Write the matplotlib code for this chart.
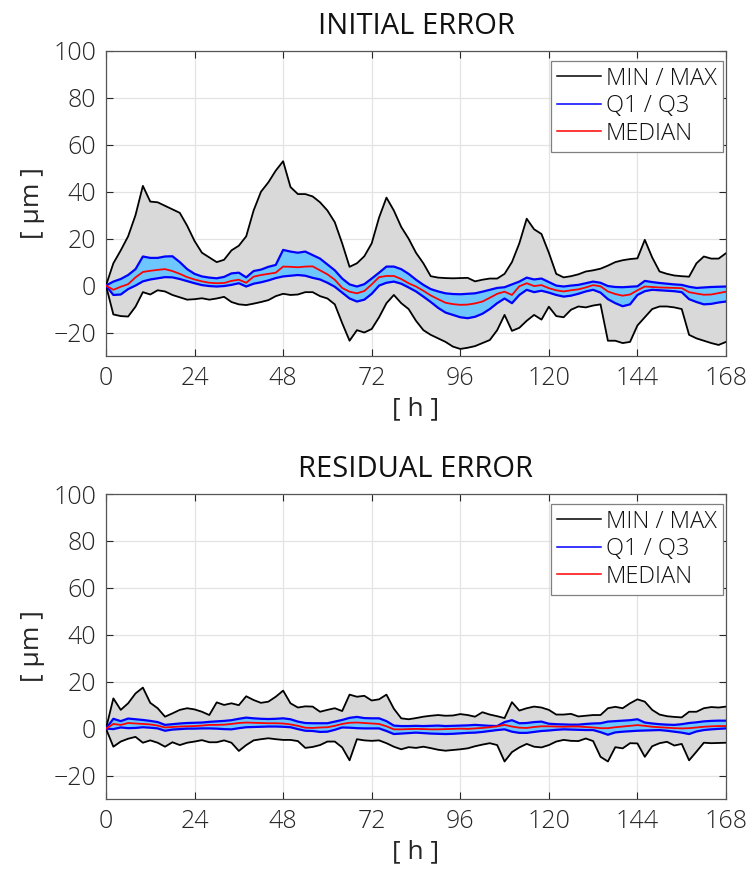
import numpy as np
import matplotlib
matplotlib.use('Agg')
import matplotlib.pyplot as plt
from matplotlib.lines import Line2D

plt.rcParams['font.family'] = ['Open Sans', 'DejaVu Sans']
plt.rcParams['font.weight'] = 'light'

# time axis [h], one sample every 2 h
hours = np.arange(0, 169, 2)

# ---- INITIAL ERROR [um] ----
init_max = [0, 9.5, 15, 21, 30, 42.5, 35.8, 35.5, 34, 32.5, 31, 25.5, 19, 14, 12, 10, 11, 15, 17, 21,
            32, 40, 44, 49, 53, 42, 39, 39, 38, 35.5, 32, 27, 18, 8, 9.5, 12.5, 18, 29, 37.5, 32,
            25, 20, 14, 9.5, 4, 3.4, 3.2, 3.1, 3.2, 3.3, 1.8, 2.5, 3, 3, 5, 10, 18, 28.5, 24, 22,
            14, 5, 3.5, 4, 4.8, 6, 6.5, 7.2, 8.5, 10, 10.8, 11.3, 11.6, 19.5, 12, 6, 5, 4.3, 4, 3.8,
            9.5, 12.4, 11.5, 11.5, 13.8]
init_min = [0, -12.3, -13, -13.2, -9, -2.8, -3.8, -2, -2.5, -4, -5, -6, -5.8, -5.4, -6, -5.5, -4.8, -7, -8, -8.3,
            -7.7, -7, -6.2, -4.5, -3.5, -4, -3.8, -2.8, -2.8, -4.5, -5.5, -8, -16, -23.5, -19, -20, -18.5, -13.5, -7.5, -4,
            -7.5, -10, -15, -19, -21, -22.5, -24, -26, -27, -26.5, -25.8, -24.5, -23.2, -19, -12.5, -19.3, -18, -15, -12.5, -14.5,
            -9, -13, -13.5, -10.3, -8.9, -9.3, -8.5, -8, -23.5, -23.5, -24.5, -24, -17, -13.5, -10, -8.9, -8.9, -9.3, -10, -21,
            -22.5, -23.5, -24.5, -25.3, -24]
init_q3 = [0, 1.7, 2.8, 4.5, 7, 12.4, 11.8, 11.8, 12.4, 12.5, 10, 7, 5, 3.9, 3.4, 3.1, 3.7, 5.2, 5.5, 3.5,
           6.2, 6.8, 8, 8.8, 15.2, 14.5, 14, 14.5, 13, 11.5, 9, 6.5, 3, 0.5, -0.4, 0.6, 3, 5.5, 8.1, 8.1,
           7, 5, 2.5, 0.3, -1.5, -2.5, -3.3, -3.6, -3.7, -3.5, -3.3, -2.6, -1.8, -1, -0.7, 0.5, 1.7, 3.4, 2.6, 3,
           1.5, 0, -0.4, 0, 0.3, 1, 1.7, 1.2, -0.2, -0.6, -0.7, -0.5, -0.3, 2, 1.5, 1.1, 0.8, 0.5, 0.3, -0.5,
           -1, -0.8, -0.6, -0.5, -0.4]
init_q1 = [0, -4, -3.8, -1.5, 0, 1.8, 2.6, 3.1, 3.6, 3.5, 2.8, 1.9, 1, 0.2, -0.2, -0.4, -0.2, 0.3, 1, -0.4,
           0.8, 1.4, 2.2, 3.2, 3.9, 4.2, 4.5, 4.2, 3.3, 2.6, 1.2, -0.5, -3, -5.5, -6.8, -6, -3.5, 0, 1.2, 1.7,
           0.8, -0.8, -2.5, -4.7, -7, -9.5, -11.5, -12.5, -13.5, -13.9, -13.3, -12, -10, -7.5, -5.5, -7.5, -4, -1.8, -2.8, -2.2,
           -3, -4, -4.7, -4.3, -3.5, -2.5, -1.8, -3, -5.8, -7.5, -8.8, -8, -4, -2.4, -1.8, -2, -2.2, -2.4, -2.8, -5.8,
           -7, -8, -7.8, -7.2, -6.8]
init_med = [0, -1.8, -0.5, 0.6, 3.5, 5.8, 6.3, 6.7, 7, 6.2, 5, 3.6, 2.6, 1.8, 1.2, 1, 1.1, 2, 2.5, 1.2,
            3.8, 4.5, 5, 5.5, 8.1, 8, 7.8, 8.1, 8.2, 6.5, 4.8, 2.5, -1, -2.6, -3.3, -2.3, 0.5, 3.6, 4.1, 4.1,
            2.8, 1, -0.4, -2.2, -4.2, -5.8, -7.3, -7.9, -8.2, -8.1, -7.6, -6.8, -5.2, -3.5, -2.6, -4, -0.3, 1, -0.2, 0.2,
            -1.1, -2, -2.5, -2, -1.6, -0.8, 0.2, -0.3, -2.5, -3.6, -4.3, -3.8, -2, -0.4, -0.6, -0.8, -0.9, -1, -1.1, -2.8,
            -3.4, -3.9, -3.8, -3.2, -2.6]

# ---- RESIDUAL ERROR [um] ----
res_max = [0, 12.9, 8, 10.8, 15, 17.5, 11, 8.7, 5.1, 6.5, 8, 8.7, 8.2, 7.2, 5.8, 11.2, 10.1, 10.8, 10, 13.8,
           12.2, 11, 11.5, 13.6, 16.2, 10.8, 9, 9.5, 9.4, 7.2, 8, 8.7, 7.5, 14.5, 13.6, 14, 12, 12.5, 14.5, 8.5,
           4.4, 4, 4.5, 5.1, 5.5, 5.8, 5.5, 5.6, 6.2, 5.8, 5.1, 7, 6, 5.3, 4.5, 11.3, 7.7, 8.7, 9.4, 9,
           8, 6, 6, 6.3, 5.2, 5.5, 5.8, 5.8, 8.7, 9.3, 8.7, 10.8, 12.5, 11.5, 8, 6, 5.3, 5, 4.8, 7.2,
           7.2, 8.7, 9.2, 9, 9.4]
res_min = [0, -7.7, -5.5, -4.3, -3.5, -6, -5, -6, -7.7, -5.8, -7, -6, -5.5, -4.9, -5.8, -5.8, -5, -6, -9.5, -7,
           -5, -4.5, -4.1, -4.5, -4.8, -4.8, -5.3, -8.2, -7.8, -7, -5.5, -5.5, -8, -13.5, -4.5, -5, -5.2, -5, -6.2, -7.7,
           -8.8, -7.9, -8.2, -7.7, -8.3, -9, -9.4, -9.1, -8.8, -8.4, -7.5, -6.8, -6.2, -7, -14, -10, -8, -6.5, -7.7, -8,
           -7, -5.5, -4.8, -5.2, -5.3, -4.2, -5.3, -12, -14, -7.9, -8.4, -6.2, -6.3, -12, -7.5, -6.2, -5.6, -7.2, -6.5, -13.5,
           -9.8, -6, -6.2, -6.1, -6]
res_q3 = [0, 4.2, 3.2, 4.3, 4, 3.7, 3.3, 2.8, 1.6, 1.9, 2.2, 2.4, 2.5, 2.6, 2.9, 3.1, 3.3, 3.6, 4.2, 4.7,
          4.4, 4.2, 4.1, 4.2, 4.4, 4, 3, 2.4, 2.3, 2.3, 2.3, 3, 3.7, 4.6, 5, 4.5, 4.4, 4.4, 3.2, 1.3,
          1.1, 1.1, 1.2, 1.1, 1.2, 1.3, 1.1, 1.2, 1.3, 1.4, 1.6, 1.4, 1.2, 1.1, 2.8, 3.6, 2.3, 2.4, 2.8, 3,
          2.1, 1.9, 1.8, 1.7, 1.7, 2, 2.2, 2.3, 3, 3.2, 3.4, 3.6, 4, 2.6, 2.2, 1.9, 1.7, 1.6, 1.9, 2.4,
          2.7, 3.1, 3.3, 3.4, 3.4]
res_q1 = [0, -0.2, 0.5, 0.2, 0.3, 0.6, 0.4, 0.1, -0.9, -0.4, -0.2, 0, 0, 0.1, 0.1, 0, -0.2, -0.3, 0.2, 0.6,
          0.7, 0.8, 0.9, 0.9, 0.8, 0.6, -0.2, -0.9, -1, -1.4, -1.3, -0.5, 0.5, 0.4, 0.2, 0.1, 0.1, 0.1, -1, -2.3,
          -2.1, -1.9, -1.7, -1.9, -2.1, -2.2, -2.3, -2.2, -2, -1.8, -1.7, -1.4, -1, -0.6, -0.3, -1.3, -1.8, -1.8, -1.4, -1,
          -0.8, -0.5, -0.3, -0.4, -0.5, -0.6, -0.6, -1.5, -2.6, -1.6, -1.3, -1.1, -0.9, -0.8, -0.7, -0.6, -0.9, -1.3, -1.7, -2.3,
          -1.2, -0.6, -0.3, -0.1, 0.1]
res_med = [0, 2, 1.6, 2.4, 2.2, 2, 1.8, 1.3, 0.5, 0.7, 0.9, 1, 1.1, 1.3, 1.6, 1.6, 1.7, 2, 2.4, 2.6,
           2.5, 2.4, 2.3, 2.3, 2.2, 1.8, 1.2, 0.4, 0.3, 0.5, 0.6, 1.2, 2, 2.5, 2.6, 2.4, 2.2, 2, 1, -0.3,
           -0.3, -0.2, -0.1, -0.2, -0.3, -0.3, -0.2, -0.1, 0, -0.1, 0.1, 0.3, 0.6, 1, 1.6, 0.9, 0.4, 0.3, 0.7, 1,
           1, 0.9, 0.8, 0.9, 0.9, 0.7, 0.5, 0.2, 0.2, 0.6, 0.9, 1.2, 1.5, 1.2, 0.8, 0.6, 0.4, 0.2, 0.1, 0.2,
           0.5, 0.8, 1, 1.1, 1.1]

titles = ['INITIAL ERROR', 'RESIDUAL ERROR']
legend_labels = ['MIN / MAX', 'Q1 / Q3', 'MEDIAN']
xticks = np.arange(0, 169, 24)
yticks = np.arange(-20, 101, 20)

GRAY_FILL = '#d9d9d9'
BLUE_FILL = '#6ec6ff'
AX_COL = '#262626'

fig = plt.figure(figsize=(7.5, 8.77), dpi=100)
axes = [fig.add_axes([0.1413, 0.5941, 0.8267, 0.3478]),
        fig.add_axes([0.1413, 0.0889, 0.8267, 0.3478])]

panels = [(init_min, init_q1, init_med, init_q3, init_max),
          (res_min, res_q1, res_med, res_q3, res_max)]

for ax, title, (mn, q1, med, q3, mx) in zip(axes, titles, panels):
    ax.fill_between(hours, mn, mx, color=GRAY_FILL, lw=0, zorder=1)
    ax.fill_between(hours, q1, q3, color=BLUE_FILL, lw=0, zorder=2)
    ax.plot(hours, mx, color='k', lw=1.3, zorder=3)
    ax.plot(hours, mn, color='k', lw=1.3, zorder=3)
    ax.plot(hours, q3, color='#0000ff', lw=1.6, zorder=4)
    ax.plot(hours, q1, color='#0000ff', lw=1.6, zorder=4)
    ax.plot(hours, med, color='#ff0000', lw=1.3, zorder=5)

    ax.set_xlim(0, 168)
    ax.set_ylim(-30, 100)
    ax.set_xticks(xticks)
    ax.set_yticks(yticks)
    ax.grid(True, color='#e3e3e3', lw=0.9)
    ax.set_axisbelow(True)
    ax.tick_params(direction='in', top=True, right=True, length=5, width=0.8,
                   color=AX_COL, labelsize=18, labelcolor=AX_COL, pad=7)
    for s in ax.spines.values():
        s.set_color('#555555')
        s.set_linewidth(0.9)

    ax.set_title(title, fontsize=21, color='#111111', pad=12)
    ax.set_xlabel('[ h ]', fontsize=19, color=AX_COL, labelpad=4)
    ax.set_ylabel('[ µm ]', fontsize=19, color=AX_COL, labelpad=6)

    handles = [Line2D([], [], color='k', lw=1.1),
               Line2D([], [], color='#0000ff', lw=1.1),
               Line2D([], [], color='#ff0000', lw=1.1)]
    leg = ax.legend(handles, legend_labels, loc='upper right', bbox_to_anchor=(0.995, 0.968),
                    borderaxespad=0, fontsize=17, fancybox=False, framealpha=1,
                    edgecolor='#808080', handlelength=1.9, handletextpad=0.2,
                    labelspacing=0.15, borderpad=0.25)
    leg.get_frame().set_linewidth(0.9)
    for t in leg.get_texts():
        t.set_color('#111111')

fig.savefig('out.png', dpi=100)
